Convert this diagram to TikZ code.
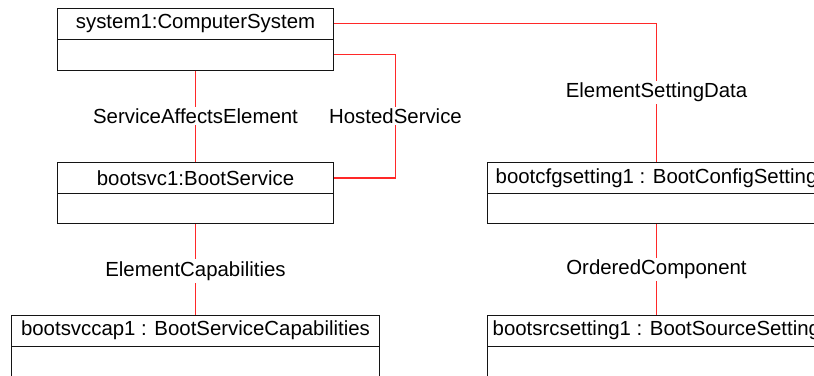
\documentclass[tikz,border=0pt]{standalone}
\usepackage{fontspec}
\setmainfont{Liberation Sans}
\definecolor{assoc}{RGB}{255,40,40}
\definecolor{boxline}{RGB}{20,20,20}
\begin{document}
\begin{tikzpicture}[x=1pt,y=-1pt,
  font=\fontsize{20.4}{24}\selectfont,
  part/.style={draw=boxline, line width=1pt, fill=white, inner sep=0pt, minimum height=31pt},
  assocline/.style={draw=assoc, line width=1.3pt},
  lbl/.style={fill=white, inner sep=2pt}]
\useasboundingbox (0,0) rectangle (814,375);
\clip (0,0) rectangle (814,375);
\fill[white] (0,0) rectangle (814,375);
% system1
\node[part, minimum width=276pt] (sysh) at (195.5,23.5) {system1:ComputerSystem};
\node[part, minimum width=276pt] (sysb) at (195.5,54.5) {};
% bootsvc1
\node[part, minimum width=276pt, minimum height=30.5pt] (bsh) at (195.5,178) {bootsvc1:BootService};
\node[part, minimum width=276pt, minimum height=30.5pt] (bsb) at (195.5,208.5) {};
% bootsvccap1
\node[part, minimum width=368pt] (caph) at (195.5,330.5) {bootsvccap1 : BootServiceCapabilities};
\node[part, minimum width=368pt, minimum height=40pt] (capb) at (195.5,366) {};
% bootcfgsetting1
\node[part, minimum width=340pt, minimum height=30.5pt] (cfgh) at (657,178) {};
\node[part, minimum width=340pt, minimum height=30.5pt] (cfgb) at (657,208.5) {};
\node[anchor=west, inner sep=0pt] (cfgt) at (495.5,178) {bootcfgsetting1 : BootConfigSetting};
% bootsrcsetting1
\node[part, minimum width=340pt] (srch) at (657,330.5) {};
\node[part, minimum width=340pt, minimum height=40pt] (srcb) at (657,366) {};
\node[anchor=west, inner sep=0pt] (srct) at (492.5,330.5) {bootsrcsetting1 : BootSourceSetting};
% connectors
\coordinate (esdc) at (656.5,23.5);
\coordinate (hsc) at (395.5,54.5);
\draw[assocline] (sysh.east) -- (esdc) -- (esdc |- cfgh.north);
\draw[assocline] (sysb.east) -- (hsc) -- (hsc |- bsh.east) -- (bsh.east);
\draw[assocline] (sysb.south) -- (bsh.north);
\draw[assocline] (bsb.south) -- (caph.north);
\draw[assocline] (esdc |- cfgb.south) -- (esdc |- srch.north);
% labels
\node[lbl] (l1) at (195.5,116) {ServiceAffectsElement};
\node[lbl] (l2) at (395.5,116) {HostedService};
\node[lbl] (l3) at (656.5,92.5) {ElementSettingData};
\node[lbl] (l4) at (195.5,271) {ElementCapabilities};
\node[lbl] (l5) at (656.5,269.5) {OrderedComponent};
\end{tikzpicture}
\end{document}
